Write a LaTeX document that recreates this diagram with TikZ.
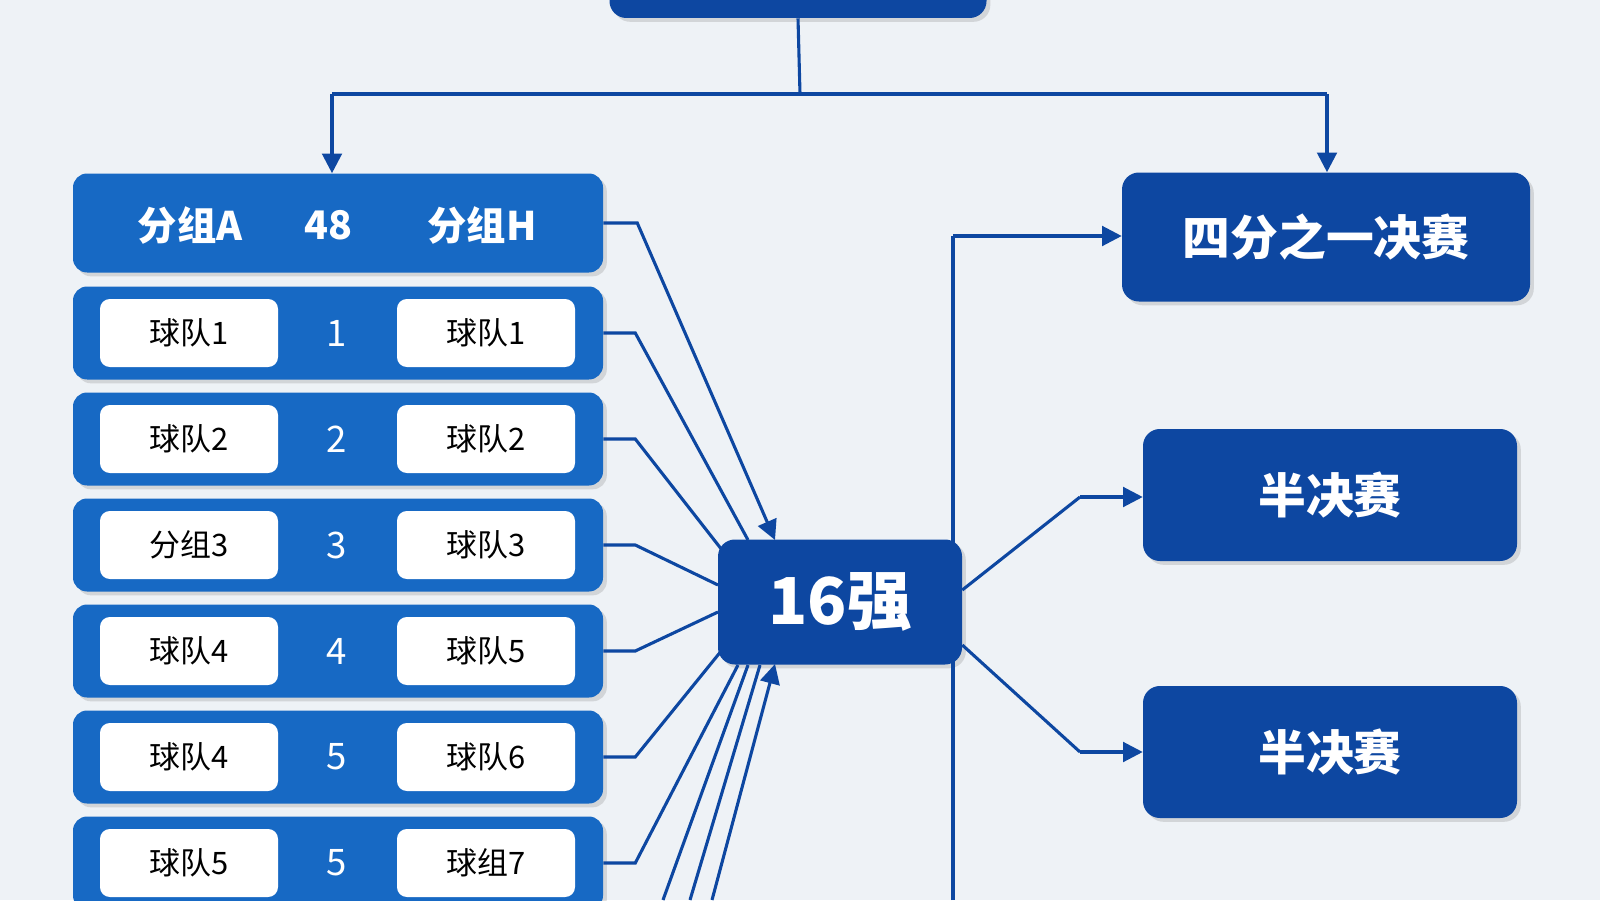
\documentclass[tikz,border=0pt]{standalone}
\usepackage{fontspec}
\setmainfont{Noto Sans CJK SC}
\usetikzlibrary{arrows.meta,shadows}
\definecolor{rowblue}{HTML}{1769C4}
\definecolor{darkblue}{HTML}{0D47A1}
\definecolor{paper}{HTML}{EEF2F6}
\tikzset{
  rowbox/.style={fill=rowblue, rounded corners=10, minimum width=530*0.25mm, minimum height=93*0.25mm, drop shadow={opacity=0.25}},
  pill/.style={fill=white, rounded corners=7, minimum width=178*0.25mm, minimum height=68*0.25mm, font=\fontsize{22}{22}\selectfont},
  stagebox/.style={fill=darkblue, rounded corners=12, text=white, font=\bfseries\fontsize{34}{34}\selectfont, drop shadow={opacity=0.25}},
  link/.style={draw=darkblue, line width=2.2pt},
  arr/.style={link, -{Triangle[length=14pt,width=14pt]}}
}
\begin{document}
\begin{tikzpicture}[x=0.25mm,y=-0.25mm]
  \fill[paper] (0,0) rectangle (1600,900);
  \useasboundingbox (0,0) rectangle (1600,900);

  % top box and split
  \node[stagebox, minimum width=377*0.25mm, minimum height=60*0.25mm] (top) at (798,-12) {};
  \coordinate (split) at (800,94);
  \coordinate (splitL) at (332,94);
  \coordinate (splitR) at (1327,94);

  % header row
  \node[rowbox, minimum height=99*0.25mm] (hdr) at (338,223) {};
  \node[text=white, font=\bfseries\fontsize{28}{28}\selectfont] at (190,225) {分组A};
  \node[text=white, font=\bfseries\fontsize{28}{28}\selectfont] at (328,225) {48};
  \node[text=white, font=\bfseries\fontsize{28}{28}\selectfont] at (482,225) {分组H};

  % rows
  \foreach \i/\a/\n/\b in {1/球队1/1/球队1, 2/球队2/2/球队2, 3/分组3/3/球队3,
                           4/球队4/4/球队5, 5/球队4/5/球队6, 6/球队5/5/球组7}
  {
    \node[rowbox] (r\i) at (338,{333+(\i-1)*106}) {};
    \node[pill] (p\i) at (189,{333+(\i-1)*106}) {\a};
    \node[text=white, font=\fontsize{26}{26}\selectfont] (n\i) at (337,{333+(\i-1)*106}) {\n};
    \node[pill] (q\i) at (486,{333+(\i-1)*106}) {\b};
  }

  % stages
  \node[stagebox, minimum width=244*0.25mm, minimum height=125*0.25mm, font=\bfseries\fontsize{46}{46}\selectfont] (r16) at (840,602) {16强};
  \node[stagebox, minimum width=408*0.25mm, minimum height=129*0.25mm] (qf) at (1326,237) {四分之一决赛};
  \node[stagebox, minimum width=374*0.25mm, minimum height=132*0.25mm] (sf1) at (1330,495) {半决赛};
  \node[stagebox, minimum width=374*0.25mm, minimum height=132*0.25mm] (sf2) at (1330,752) {半决赛};

  % top split
  \draw[link] (top.south) -- (split);
  \draw[link] (splitL) -- (splitR);
  \draw[arr] (splitL) -- (hdr.north -| splitL);
  \draw[arr] (splitR) -- (qf.north -| splitR);

  % into 16
  \draw[arr] (hdr.east) -- ++(34,0) -- (775,540);
  \draw[link] (r1.east) -- ++(32,0) -- (748,540);
  \draw[link] (r2.east) -- ++(32,0) -- (722,550);
  \draw[link] (r3.east) -- ++(32,0) -- (718,585);
  \draw[link] (r4.east) -- ++(32,0) -- (718,612);
  \draw[link] (r5.east) -- ++(32,0) -- (722,650);
  \draw[link] (r6.east) -- ++(32,0) -- (738,665);
  \draw[link] (663,900) -- (748,665);
  \draw[link] (690,900) -- (760,665);
  \draw[arr] (712,900) -- (775,664);

  % out of 16
  \coordinate (vbot) at (953,900);
  \draw[link] (vbot) -- (953,236);
  \draw[arr] (953,236) -- (qf.west |- 953,236);
  \draw[link] (r16.east |- 0,590) -- (1080,497);
  \draw[arr] (1080,497) -- (sf1.west |- 0,497);
  \draw[link] (r16.east |- 0,645) -- (1080,752);
  \draw[arr] (1080,752) -- (sf2.west |- 0,752);
\end{tikzpicture}
\end{document}
